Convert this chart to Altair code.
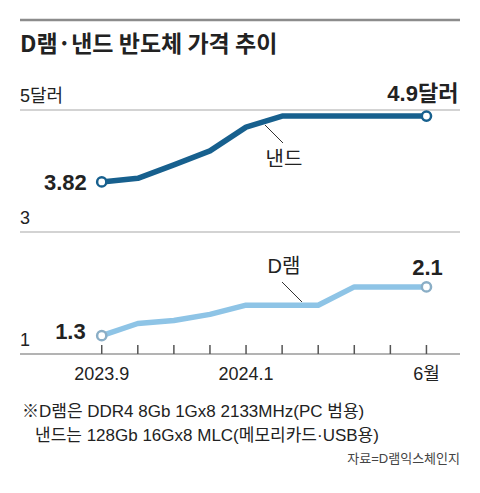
import altair as alt
import pandas as pd

# ---- data ----
months = ["2023.9", "2023.10", "2023.11", "2023.12", "2024.1",
          "2024.2", "2024.3", "2024.4", "2024.5", "2024.6"]
nand = [3.82, 3.88, 4.10, 4.33, 4.72, 4.90, 4.90, 4.90, 4.90, 4.90]
dram = [1.30, 1.50, 1.55, 1.65, 1.80, 1.80, 1.80, 2.10, 2.10, 2.10]
x_tick_idx = [0, 4, 9]
x_tick_text = ["2023.9", "2024.1", "6월"]
y_ticks = [1, 3, 5]
y_tick_text = ["1", "3", "5달러"]

title_text = "D램·낸드 반도체 가격 추이"
note1 = "※D램은 DDR4 8Gb 1Gx8 2133MHz(PC 범용)"
note2 = "낸드는 128Gb 16Gx8 MLC(메모리카드·USB용)"
source = "자료=D램익스체인지"

NAND_C = "#17608e"
DRAM_C = "#8ec4e6"
DRAM_MARK = "#8aaec6"
TXT = "#222222"
FONT = "Liberation Sans, Noto Sans CJK KR, sans-serif"
KFONT = "Noto Sans CJK KR"

W, H = 440, 244

df = pd.DataFrame({"idx": list(range(len(months))), "month": months,
                   "nand": nand, "dram": dram})
long = df.melt(id_vars=["idx", "month"], value_vars=["nand", "dram"],
               var_name="series", value_name="price")

XS = alt.Scale(domain=[-2.265, 9.93], nice=False, zero=False)
YS = alt.Scale(domain=[1, 5], nice=False, zero=False)
COL = alt.Scale(domain=["nand", "dram"], range=[NAND_C, DRAM_C])
MCOL = alt.Scale(domain=["nand", "dram"], range=[NAND_C, DRAM_MARK])

ygrid = pd.DataFrame({"v": y_ticks, "label": y_tick_text})
xt = pd.DataFrame({"idx": x_tick_idx, "label": x_tick_text})
one = pd.DataFrame({"k": [0]})

grid = alt.Chart(ygrid[ygrid.v > 1].reset_index(drop=True)).mark_rule(
    color="#c4c4c4", strokeWidth=1.5).encode(
    y=alt.Y("v:Q", scale=YS, axis=None), x=alt.value(0), x2=alt.value(W))
base_line = alt.Chart(ygrid[ygrid.v == 1].reset_index(drop=True)).mark_rule(
    color="#9a9a9a", strokeWidth=1.5).encode(
    y=alt.Y("v:Q", scale=YS, axis=None), x=alt.value(0), x2=alt.value(W))
ylab = alt.Chart(ygrid).mark_text(align="left", baseline="alphabetic", dy=-8,
                                   fontSize=18, font=FONT, color=TXT).encode(
    y=alt.Y("v:Q", scale=YS, axis=None), x=alt.value(0), text="label:N")

ticks = alt.Chart(df).mark_rule(strokeWidth=1.5, color="#555555").encode(
    x=alt.X("idx:Q", scale=XS, axis=None), y=alt.value(H - 9), y2=alt.value(H))
xlab = alt.Chart(xt).mark_text(baseline="alphabetic", fontSize=18, font=FONT,
                               color=TXT).encode(
    x=alt.X("idx:Q", scale=XS, axis=None), y=alt.value(H + 26), text="label:N")

lines = alt.Chart(long).mark_line(strokeWidth=5.5, strokeJoin="round").encode(
    x=alt.X("idx:Q", scale=XS, axis=None),
    y=alt.Y("price:Q", scale=YS, axis=None),
    color=alt.Color("series:N", scale=COL, legend=None),
    detail="series:N")

ends = long[long.idx.isin([0, len(months) - 1])].reset_index(drop=True)
points = alt.Chart(ends).mark_point(filled=True, fill="white", size=85,
                                    strokeWidth=2.5, opacity=1).encode(
    x=alt.X("idx:Q", scale=XS, axis=None),
    y=alt.Y("price:Q", scale=YS, axis=None),
    stroke=alt.Stroke("series:N", scale=MCOL, legend=None))

last = len(months) - 1
vl = pd.DataFrame({
    "idx": [0, last, 0, last],
    "price": [nand[0], nand[-1], dram[0], dram[-1]],
    "label": [f"{nand[0]:g}", f"{nand[-1]:g}달러", f"{dram[0]:g}", f"{dram[-1]:g}"],
})


def vlabel(i, **kw):
    return alt.Chart(vl.iloc[[i]].reset_index(drop=True)).mark_text(
        fontSize=22, fontWeight="bold", font=FONT, color=TXT, **kw).encode(
        x=alt.X("idx:Q", scale=XS, axis=None),
        y=alt.Y("price:Q", scale=YS, axis=None), text="label:N")


v1 = vlabel(0, align="right", baseline="middle", dx=-15, dy=1)
v2 = vlabel(1, align="right", baseline="alphabetic", dx=32, dy=-15)
v3 = vlabel(2, align="right", baseline="alphabetic", dx=-16, dy=3)
v4 = vlabel(3, align="center", baseline="alphabetic", dx=1, dy=-12)


def static_text(txt, x, y, **kw):
    return alt.Chart(one).mark_text(text=txt, **kw).encode(
        x=alt.value(x), y=alt.value(y))


sl_nand = static_text("낸드", 264, 50, fontSize=20, font=KFONT, color=TXT, baseline="middle")
sl_dram = static_text("D램", 264, 157, fontSize=20, font=FONT, color=TXT, baseline="middle")
lead1 = alt.Chart(one).mark_rule(color="#333333", strokeWidth=1).encode(
    x=alt.value(245), y=alt.value(15), x2=alt.value(263), y2=alt.value(33))
lead2 = alt.Chart(one).mark_rule(color="#333333", strokeWidth=1).encode(
    x=alt.value(262), y=alt.value(172), x2=alt.value(282), y2=alt.value(192))

top_rule = alt.Chart(one).mark_rule(color="#8c8c8c", strokeWidth=2.5).encode(
    x=alt.value(0), x2=alt.value(W), y=alt.value(-90))
title = static_text(title_text, 0, -58, fontSize=23, fontWeight="bold", font=KFONT,
                    color=TXT, align="left", baseline="alphabetic")
n1 = static_text(note1, 2, 307, fontSize=17, font=FONT, color=TXT,
                 align="left", baseline="alphabetic")
n2 = static_text(note2, 15, 331, fontSize=17, font=FONT, color=TXT,
                 align="left", baseline="alphabetic")
src = static_text(source, W, 353, fontSize=13, font=FONT, color="#444444",
                  align="right", baseline="alphabetic")

chart = alt.layer(
    top_rule, title, grid, base_line, ylab, ticks, xlab, lines, points,
    v1, v2, v3, v4, lead1, lead2, sl_nand, sl_dram, n1, n2, src
).properties(
    width=W, height=H,
    padding={"left": 12, "top": 102, "right": 12, "bottom": 131},
    autosize=alt.AutoSizeParams(type="none"),
    background="white",
).configure_view(stroke=None)

chart.save("out.html", embed_options={"renderer": "svg", "actions": False})
